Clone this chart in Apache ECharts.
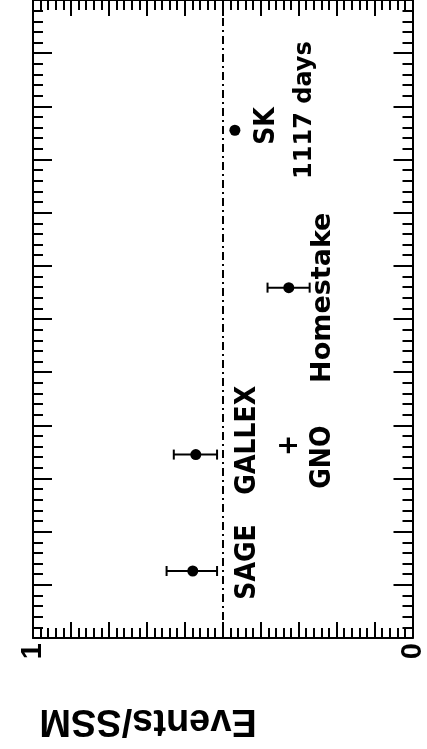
<!DOCTYPE html>
<html><head><meta charset="utf-8">
<script src="https://cdn.jsdelivr.net/npm/echarts@6/dist/echarts.min.js"></script>
<style>html,body{margin:0;padding:0;background:#fff}#c{width:427px;height:749px}</style>
</head><body><div id="c"></div>
<script>
// ---- data ----
const experiments = ['SAGE', 'GALLEX+GNO', 'Homestake', 'SK'];
const positions = [1.26, 3.45, 6.59, 9.55];      // position along the experiment axis
const ratios = [0.579, 0.571, 0.326, 0.468];      // Events/SSM
const errLow = [0.515, 0.515, 0.271, null];
const errHigh = [0.648, 0.629, 0.382, null];
const referenceRatio = 0.5;
const axisTickLabels = ['0', '1'];
const annotationTexts = ['SAGE', 'GALLEX', '+', 'GNO', 'Homestake', 'SK', '1117 days'];
const annotationRatio = [0.434, 0.434, 0.324, 0.237, 0.237, 0.383, 0.285];
const annotationPos = [1.43, 3.72, 3.62, 3.40, 6.40, 9.63, 9.93];
const yTitle = 'Events/SSM';

// ---- styles ----
const narrowFont = "'Liberation Sans Narrow', 'DejaVu Sans Condensed', 'Liberation Sans', sans-serif";
const wideFont = "'DejaVu Sans', 'Liberation Sans', sans-serif";
function annStyle(t) {
  const base = { color: '#000', textBorderWidth: 0, fontWeight: 'bold' };
  if (t === 'Homestake') return Object.assign(base, { fontFamily: wideFont, fontSize: 27 });
  if (t === '1117 days') return Object.assign(base, { fontFamily: wideFont, fontSize: 24 });
  return Object.assign(base, { fontFamily: narrowFont, fontSize: 28 });
}

const chart = echarts.init(document.getElementById('c'), null, { renderer: 'canvas' });

const xCommon = {
  type: 'value', min: 0, max: 1, interval: 0.1, inverse: true,
  axisLine: { show: true, onZero: false, lineStyle: { color: '#000', width: 2 } },
  axisTick: { show: true, inside: true, length: 16, lineStyle: { color: '#000', width: 2 } },
  minorTick: { show: true, splitNumber: 5, length: 10, lineStyle: { color: '#000', width: 2 } },
  splitLine: { show: false }, minorSplitLine: { show: false }
};
const yCommon = {
  type: 'value', min: 0, max: 12, interval: 1,
  axisLine: { show: true, onZero: false, lineStyle: { color: '#000', width: 2 } },
  axisTick: { show: true, inside: true, length: 19, lineStyle: { color: '#000', width: 2 } },
  minorTick: { show: true, splitNumber: 5, length: 10, lineStyle: { color: '#000', width: 2 } },
  axisLabel: { show: false },
  splitLine: { show: false }, minorSplitLine: { show: false }
};

const points = experiments.map((e, i) => [ratios[i], positions[i], e]);
const bars = experiments.map((e, i) => [errLow[i], errHigh[i], positions[i]]).filter(d => d[0] != null);
const ann = annotationTexts.map((t, i) => ({
  value: [annotationRatio[i], annotationPos[i]],
  label: annStyle(t)
}));

chart.setOption({
  animation: false,
  backgroundColor: '#fff',
  grid: { left: 33, right: 5, top: -1, bottom: 111, containLabel: false },
  xAxis: [
    Object.assign({}, xCommon, {
      position: 'bottom',
      axisLabel: {
        show: true, rotate: 90, margin: 5, fontSize: 29, fontWeight: 'bold', color: '#000',
        fontFamily: "'Liberation Sans', sans-serif",
        showMinLabel: true, showMaxLabel: true,
        formatter: v => axisTickLabels.includes(String(v)) ? String(v) : ''
      }
    }),
    Object.assign({}, xCommon, { position: 'top', axisLabel: { show: false } })
  ],
  yAxis: [
    Object.assign({}, yCommon, { position: 'left' }),
    Object.assign({}, yCommon, { position: 'right' })
  ],
  graphic: [{
    type: 'text', x: 148, y: 720, rotation: Math.PI,
    style: {
      text: yTitle, fill: '#000', align: 'center', verticalAlign: 'middle',
      font: "bold 38px 'Liberation Sans', sans-serif"
    }
  }],
  series: [
    {
      type: 'custom', xAxisIndex: 0, yAxisIndex: 0, data: bars, silent: true,
      renderItem: function (params, api) {
        const a = api.coord([api.value(0), api.value(2)]);
        const b = api.coord([api.value(1), api.value(2)]);
        const st = { stroke: '#000', lineWidth: 2 };
        const cap = 5;
        return { type: 'group', children: [
          { type: 'line', shape: { x1: a[0], y1: a[1], x2: b[0], y2: b[1] }, style: st },
          { type: 'line', shape: { x1: a[0], y1: a[1] - cap, x2: a[0], y2: a[1] + cap }, style: st },
          { type: 'line', shape: { x1: b[0], y1: b[1] - cap, x2: b[0], y2: b[1] + cap }, style: st }
        ] };
      }
    },
    {
      type: 'scatter', xAxisIndex: 0, yAxisIndex: 0, data: points,
      symbol: 'circle', symbolSize: 11, itemStyle: { color: '#000', opacity: 1 }, silent: true,
      markLine: {
        silent: true, symbol: 'none', label: { show: false },
        lineStyle: { color: '#000', width: 2, type: [8, 4, 2, 4], opacity: 1 },
        data: [{ xAxis: referenceRatio }]
      }
    },
    {
      type: 'scatter', xAxisIndex: 0, yAxisIndex: 0, data: ann, symbolSize: 0, silent: true,
      itemStyle: { color: '#000', opacity: 1 },
      label: {
        show: true, position: 'inside', rotate: 90, color: '#000',
        align: 'center', verticalAlign: 'middle',
        formatter: p => annotationTexts[p.dataIndex]
      }
    }
  ]
});
</script></body></html>
